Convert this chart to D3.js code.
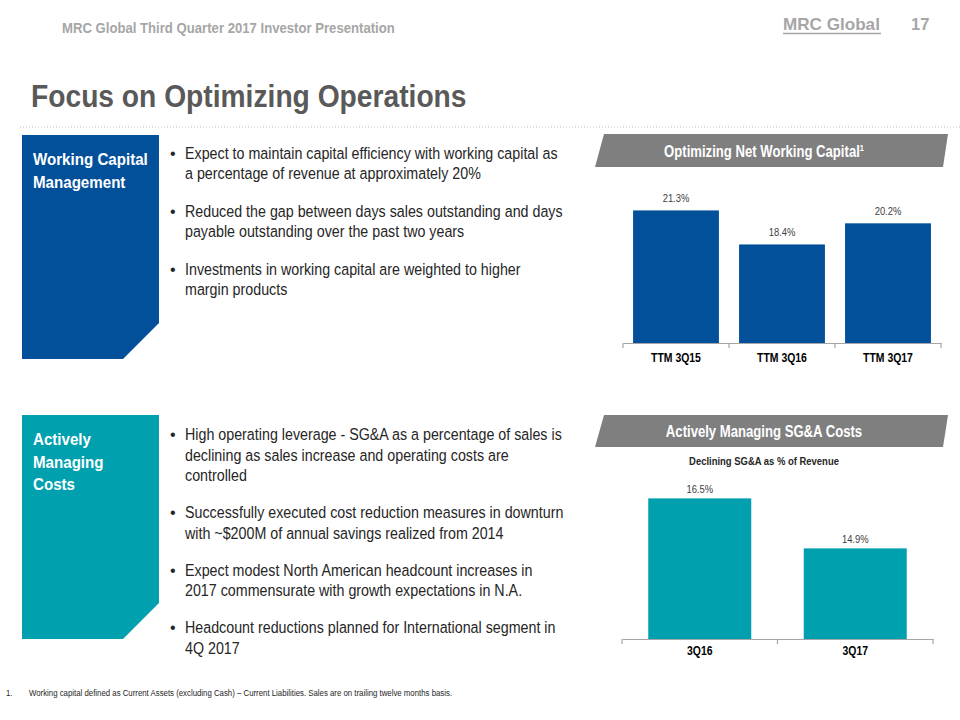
<!DOCTYPE html>
<html><head><meta charset="utf-8">
<script src="https://cdn.jsdelivr.net/npm/d3@7"></script>
<style>
html,body{margin:0;padding:0;background:#fff;}
svg{display:block;}
text{font-family:"Liberation Sans",Arial,sans-serif;}
</style></head>
<body>
<svg id="c" width="960" height="720"></svg>
<script>
// ---- data ----
const wcCategories = ["TTM 3Q15", "TTM 3Q16", "TTM 3Q17"];
const wcValues = [21.3, 18.4, 20.2];
const sgaCategories = ["3Q16", "3Q17"];
const sgaValues = [16.5, 14.9];
const wcBullets = [
  ["Expect to maintain capital efficiency with working capital as", "a percentage of revenue at approximately 20%"],
  ["Reduced the gap between days sales outstanding and days", "payable outstanding over the past two years"],
  ["Investments in working capital are weighted to higher", "margin products"]
];
const sgaBullets = [
  ["High operating leverage - SG&A as a percentage of sales is", "declining as sales increase and operating costs are", "controlled"],
  ["Successfully executed cost reduction measures in downturn", "with ~$200M of annual savings realized from 2014"],
  ["Expect modest North American headcount increases in", "2017 commensurate with growth expectations in N.A."],
  ["Headcount reductions planned for International segment in", "4Q 2017"]
];

const BLUE = "#02509A", TEAL = "#00A0AE", GREY = "#7F7F7F";
const svg = d3.select("#c");
svg.append("rect").attr("width", 960).attr("height", 720).attr("fill", "#fff");

// text helper (horizontally condensed to mimic a narrow face)
function txt(parent, x, y, s, o) {
  const t = parent.append("text")
    .attr("transform", `translate(${x},${y}) scale(${o.sx || 1},1)`)
    .attr("font-size", o.size).attr("font-weight", o.weight || "normal")
    .attr("fill", o.fill || "#262626").attr("text-anchor", o.anchor || "start").text(s);
  return t;
}

// header
txt(svg, 62, 33, "MRC Global Third Quarter 2017 Investor Presentation", {size: 15, weight: "bold", fill: "#A6A6A6", sx: 0.876});
txt(svg, 783, 30, "MRC Global", {size: 16, weight: "bold", fill: "#A6A6A6", sx: 1.07});
svg.append("line").attr("x1", 783).attr("x2", 881).attr("y1", 33.5).attr("y2", 33.5).attr("stroke", "#A6A6A6").attr("stroke-width", 1.5);
txt(svg, 911, 30, "17", {size: 16.5, weight: "bold", fill: "#A6A6A6"});

txt(svg, 31, 107, "Focus on Optimizing Operations", {size: 31, weight: "bold", fill: "#595959", sx: 0.91});
svg.append("line").attr("x1", 20).attr("x2", 960).attr("y1", 127).attr("y2", 127)
  .attr("stroke", "#BFBFBF").attr("stroke-width", 1).attr("stroke-dasharray", "1,2");

// side boxes
function sideBox(top, bottom, color, lines) {
  const cut = bottom - 36;
  svg.append("path").attr("d", `M22,${top}H159V${cut}L123,${bottom}H22Z`).attr("fill", color);
  lines.forEach((t, i) => txt(svg, 33, top + 30 + i * 22.5, t, {size: 17, weight: "bold", fill: "#fff", sx: 0.89}));
}
sideBox(135, 359, BLUE, ["Working Capital", "Management"]);
sideBox(415, 639, TEAL, ["Actively", "Managing", "Costs"]);

function bullets(list, startY, lineH, gapY) {
  let y = startY;
  list.forEach(lines => {
    txt(svg, 170, y, "•", {size: 16, fill: "#262626"});
    lines.forEach((t, i) => txt(svg, 185, y + i * lineH, t, {size: 17, fill: "#262626", sx: 0.84}));
    y += (lines.length - 1) * lineH + gapY;
  });
}
bullets(wcBullets, 159, 20, 38);
bullets(sgaBullets, 440, 20.5, 37);

// banners
function banner(top, bottom, title, sup) {
  svg.append("path").attr("d", `M604,${top}H948L943,${bottom}H595Z`).attr("fill", GREY);
  const t = txt(svg, 764, (top + bottom) / 2 + 6, title, {size: 16, weight: "bold", fill: "#fff", sx: 0.82, anchor: "middle"});
  if (sup) t.append("tspan").attr("font-size", 9).attr("dy", -6).text(sup);
}
banner(134, 167, "Optimizing Net Working Capital", "1");
banner(415, 447, "Actively Managing SG&A Costs");

// bar charts
function barChart(cats, vals, x0, x1, yBase, yTop, dom, pad, color, labGap, catPad) {
  const x = d3.scaleBand().domain(cats).range([x0, x1]).paddingInner(pad).paddingOuter(pad / 2);
  const y = d3.scaleLinear().domain(dom).range([yBase, yTop]);
  const g = svg.append("g");
  g.selectAll("rect.bar").data(vals).join("rect").attr("class", "bar")
    .attr("x", (d, i) => x(cats[i])).attr("width", x.bandwidth())
    .attr("y", d => y(d)).attr("height", d => yBase - y(d)).attr("fill", color);
  vals.forEach((d, i) => txt(g, x(cats[i]) + x.bandwidth() / 2, y(d) - labGap, d.toFixed(1) + "%",
    {size: 11.5, fill: "#404040", sx: 0.82, anchor: "middle"}));
  const ax = g.append("g").attr("transform", `translate(0,${yBase})`)
    .call(d3.axisBottom(x).tickSize(0).tickPadding(catPad));
  ax.select(".domain").attr("stroke", "#A6A6A6").attr("stroke-width", 1.2);
  ax.selectAll("text").attr("font-size", 12).attr("font-weight", "bold").attr("fill", "#000")
    .attr("font-family", "'Liberation Sans',Arial,sans-serif").attr("transform", "scale(0.87,1)");
  const bounds = cats.map(c => x(c) - x.step() * pad / 2).concat([x1]);
  g.selectAll("line.tk").data(bounds).join("line").attr("class", "tk")
    .attr("x1", d => d).attr("x2", d => d).attr("y1", yBase).attr("y2", yBase + 5)
    .attr("stroke", "#A6A6A6").attr("stroke-width", 1.2);
  return g;
}
barChart(wcCategories, wcValues, 623, 941, 343, 167, [10, 25], 0.19, BLUE, 8, 10);
barChart(sgaCategories, sgaValues, 622, 933, 639, 451.5, [12, 18], 0.3376, TEAL, 5, 7);

txt(svg, 764, 465, "Declining SG&A as % of Revenue", {size: 11, weight: "bold", fill: "#262626", sx: 0.86, anchor: "middle"});

// footnote
txt(svg, 6, 696, "1.", {size: 9, fill: "#262626", sx: 0.87});
txt(svg, 29, 696, "Working capital defined as Current Assets (excluding Cash) – Current Liabilities. Sales are on trailing twelve months basis.",
  {size: 9, fill: "#262626", sx: 0.87});
</script>
</body></html>
